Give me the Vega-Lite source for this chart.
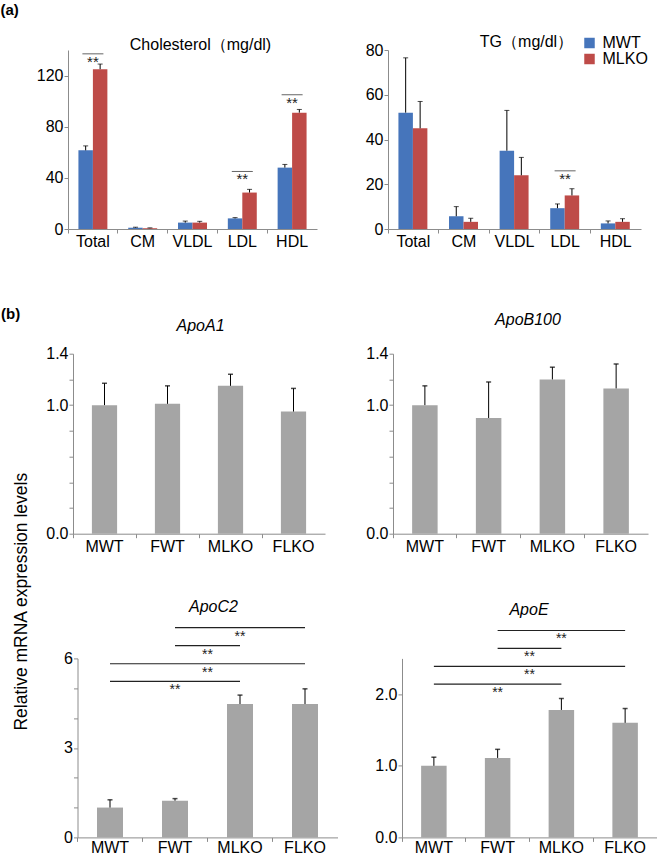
{
  "$schema": "https://vega.github.io/schema/vega-lite/v6.json",
  "padding": {"left": 0, "top": 3, "right": 0, "bottom": 0},
  "background": "white",
  "bounds": "flush",
  "columns": 2,
  "align": "each",
  "spacing": {"row": 124.7, "column": 50},
  "title": {"text": "(a)", "anchor": "start", "frame": "group", "dx": -67.5, "offset": 4, "fontWeight": "bold", "fontSize": 15, "baseline": "alphabetic"},
  "config": {
    "font": "Liberation Sans",
    "view": {"stroke": null},
    "axis": {"domainColor": "#8c8c8c", "tickColor": "#8c8c8c", "tickSize": 4, "labelFontSize": 16, "labelColor": "#000", "grid": false, "labelOverlap": false, "labelFlush": false, "labelBound": false, "titleFontWeight": "normal", "titleColor": "#000", "domainWidth": 1, "tickWidth": 1},
    "axisX": {"labelAngle": 0, "labelPadding": 0},
    "axisY": {"labelPadding": 1},
    "title": {"fontSize": 16, "fontWeight": "normal", "color": "#000", "baseline": "alphabetic", "anchor": "middle", "frame": "group"}
  },
  "datasets": {
    "chol": [
      {"lipo": "Total", "group": "MWT", "mean": 61.5, "upper": 65},
      {"lipo": "Total", "group": "MLKO", "mean": 125, "upper": 129},
      {"lipo": "CM", "group": "MWT", "mean": 1.0, "upper": 1.4},
      {"lipo": "CM", "group": "MLKO", "mean": 0.6, "upper": 0.9},
      {"lipo": "VLDL", "group": "MWT", "mean": 5.0, "upper": 6.2},
      {"lipo": "VLDL", "group": "MLKO", "mean": 5.0, "upper": 6.0},
      {"lipo": "LDL", "group": "MWT", "mean": 8.3, "upper": 8.9},
      {"lipo": "LDL", "group": "MLKO", "mean": 28.5, "upper": 31},
      {"lipo": "HDL", "group": "MWT", "mean": 48, "upper": 50.5},
      {"lipo": "HDL", "group": "MLKO", "mean": 91, "upper": 93.5}
    ],
    "cholSig": [
      {"lipo": "Total", "y": 137},
      {"lipo": "LDL", "y": 45},
      {"lipo": "HDL", "y": 105}
    ],
    "tg": [
      {"lipo": "Total", "group": "MWT", "mean": 52, "upper": 76.5},
      {"lipo": "Total", "group": "MLKO", "mean": 45, "upper": 57},
      {"lipo": "CM", "group": "MWT", "mean": 5.7, "upper": 10},
      {"lipo": "CM", "group": "MLKO", "mean": 3.2, "upper": 4.8},
      {"lipo": "VLDL", "group": "MWT", "mean": 35, "upper": 53},
      {"lipo": "VLDL", "group": "MLKO", "mean": 24, "upper": 32},
      {"lipo": "LDL", "group": "MWT", "mean": 9.3, "upper": 11.2},
      {"lipo": "LDL", "group": "MLKO", "mean": 15, "upper": 18},
      {"lipo": "HDL", "group": "MWT", "mean": 2.5, "upper": 3.6},
      {"lipo": "HDL", "group": "MLKO", "mean": 3.2, "upper": 4.6}
    ],
    "tgSig": [
      {"lipo": "LDL", "y": 26}
    ],
    "a1": [
      {"grp": "MWT", "mean": 1.0, "upper": 1.17},
      {"grp": "FWT", "mean": 1.01, "upper": 1.15},
      {"grp": "MLKO", "mean": 1.15, "upper": 1.24},
      {"grp": "FLKO", "mean": 0.95, "upper": 1.13}
    ],
    "b100": [
      {"grp": "MWT", "mean": 1.0, "upper": 1.15},
      {"grp": "FWT", "mean": 0.9, "upper": 1.18},
      {"grp": "MLKO", "mean": 1.2, "upper": 1.295},
      {"grp": "FLKO", "mean": 1.13, "upper": 1.32}
    ],
    "c2": [
      {"grp": "MWT", "mean": 1.0, "upper": 1.26},
      {"grp": "FWT", "mean": 1.23, "upper": 1.3},
      {"grp": "MLKO", "mean": 4.47, "upper": 4.77},
      {"grp": "FLKO", "mean": 4.47, "upper": 4.98}
    ],
    "c2Sig": [
      {"from": "FWT", "to": "FLKO", "y": 7.03, "star_at": "MLKO"},
      {"from": "FWT", "to": "MLKO", "y": 6.43, "star_at": "FWT/MLKO"},
      {"from": "MWT", "to": "FLKO", "y": 5.82, "star_at": "FWT/MLKO"},
      {"from": "MWT", "to": "MLKO", "y": 5.23, "star_at": "FWT"}
    ],
    "e": [
      {"grp": "MWT", "mean": 1.0, "upper": 1.12},
      {"grp": "FWT", "mean": 1.11, "upper": 1.23},
      {"grp": "MLKO", "mean": 1.78, "upper": 1.94},
      {"grp": "FLKO", "mean": 1.6, "upper": 1.8}
    ],
    "eSig": [
      {"from": "FWT", "to": "FLKO", "y": 2.89, "star_at": "MLKO"},
      {"from": "FWT", "to": "MLKO", "y": 2.64, "star_at": "FWT/MLKO"},
      {"from": "MWT", "to": "FLKO", "y": 2.39, "star_at": "FWT/MLKO"},
      {"from": "MWT", "to": "MLKO", "y": 2.14, "star_at": "FWT"}
    ]
  },
  "concat": [
    {
      "width": 249, "height": 179,
      "title": {"text": "Cholesterol（mg/dl)", "dx": 8, "offset": -2.5},
      "layer": [
        {
          "data": {"name": "chol"},
          "mark": {"type": "bar"},
          "encoding": {
            "x": {"field": "lipo", "type": "nominal", "scale": {"domain": ["Total", "CM", "VLDL", "LDL", "HDL"], "paddingInner": 0, "paddingOuter": 0},
              "axis": {"bandPosition": 0, "title": "(b)", "titleAngle": 0, "titleAlign": "left", "titleBaseline": "top", "titleX": -67.5, "titleY": 77, "titleFontWeight": "bold", "titleFontSize": 15}},
            "xOffset": {"field": "group", "type": "nominal", "scale": {"domain": ["MWT", "MLKO"], "paddingOuter": 0.72, "paddingInner": 0}},
            "y": {"field": "mean", "type": "quantitative", "scale": {"domain": [0, 140], "nice": false},
              "axis": {"labelOverlap": false, "values": [0, 20, 40, 60, 80, 100, 120, 140], "labelExpr": "datum.value % 40 == 0 ? datum.label : ' '", "title": null}},
            "color": {"field": "group", "type": "nominal", "scale": {"domain": ["MWT", "MLKO"], "range": ["#4675BB", "#BE4B48"]},
              "legend": {"orient": "none", "legendX": 513.5, "legendY": -15, "title": null, "labelFontSize": 16, "labelColor": "#000", "symbolType": "square", "symbolSize": 110, "symbolStrokeWidth": 0, "rowPadding": 0, "labelOffset": 5, "padding": 0}}
          }
        },
        {
          "data": {"name": "chol"},
          "mark": {"type": "rule", "color": "#000", "strokeWidth": 1},
          "encoding": {
            "x": {"field": "lipo", "type": "nominal", "scale": {"domain": ["Total", "CM", "VLDL", "LDL", "HDL"], "paddingInner": 0, "paddingOuter": 0}},
            "xOffset": {"field": "group", "type": "nominal", "scale": {"domain": ["MWT", "MLKO"], "paddingOuter": 0.72, "paddingInner": 0}},
            "y": {"field": "mean", "type": "quantitative", "scale": {"domain": [0, 140], "nice": false}},
            "y2": {"field": "upper"}
          }
        },
        {
          "data": {"name": "chol"},
          "mark": {"type": "tick", "color": "#000", "thickness": 1, "size": 5},
          "encoding": {
            "x": {"field": "lipo", "type": "nominal", "scale": {"domain": ["Total", "CM", "VLDL", "LDL", "HDL"], "paddingInner": 0, "paddingOuter": 0}},
            "xOffset": {"field": "group", "type": "nominal", "scale": {"domain": ["MWT", "MLKO"], "paddingOuter": 0.72, "paddingInner": 0}},
            "y": {"field": "upper", "type": "quantitative", "scale": {"domain": [0, 140], "nice": false}}
          }
        },
        {
          "data": {"name": "cholSig"},
          "mark": {"type": "tick", "color": "#222", "thickness": 1, "size": 21},
          "encoding": {
            "x": {"field": "lipo", "type": "nominal", "scale": {"domain": ["Total", "CM", "VLDL", "LDL", "HDL"], "paddingInner": 0, "paddingOuter": 0}},
            "y": {"field": "y", "type": "quantitative", "scale": {"domain": [0, 140], "nice": false}}
          }
        },
        {
          "data": {"name": "cholSig"},
          "mark": {"type": "text", "text": "**", "baseline": "top", "dy": 1, "fontSize": 15, "color": "#222"},
          "encoding": {
            "x": {"field": "lipo", "type": "nominal", "scale": {"domain": ["Total", "CM", "VLDL", "LDL", "HDL"], "paddingInner": 0, "paddingOuter": 0}},
            "y": {"field": "y", "type": "quantitative", "scale": {"domain": [0, 140], "nice": false}}
          }
        }
      ]
    },
    {
      "width": 253, "height": 179,
      "title": {"text": "TG（mg/dl）", "dx": 12, "offset": -8},
      "layer": [
        {
          "data": {"name": "tg"},
          "mark": {"type": "bar"},
          "encoding": {
            "x": {"field": "lipo", "type": "nominal", "scale": {"domain": ["Total", "CM", "VLDL", "LDL", "HDL"], "paddingInner": 0, "paddingOuter": 0}, "axis": {"bandPosition": 0, "title": null}},
            "xOffset": {"field": "group", "type": "nominal", "scale": {"domain": ["MWT", "MLKO"], "paddingOuter": 0.74, "paddingInner": 0}},
            "y": {"field": "mean", "type": "quantitative", "scale": {"domain": [0, 80], "nice": false},
              "axis": {"labelOverlap": false, "values": [0, 10, 20, 30, 40, 50, 60, 70, 80], "labelExpr": "datum.value % 20 == 0 ? datum.label : ' '", "title": null}},
            "color": {"field": "group", "type": "nominal", "scale": {"domain": ["MWT", "MLKO"], "range": ["#4675BB", "#BE4B48"]},
              "legend": {"orient": "none", "legendX": 513.5, "legendY": -15, "title": null, "labelFontSize": 16, "labelColor": "#000", "symbolType": "square", "symbolSize": 110, "symbolStrokeWidth": 0, "rowPadding": 0, "labelOffset": 5, "padding": 0}}
          }
        },
        {
          "data": {"name": "tg"},
          "mark": {"type": "rule", "color": "#000", "strokeWidth": 1},
          "encoding": {
            "x": {"field": "lipo", "type": "nominal", "scale": {"domain": ["Total", "CM", "VLDL", "LDL", "HDL"], "paddingInner": 0, "paddingOuter": 0}},
            "xOffset": {"field": "group", "type": "nominal", "scale": {"domain": ["MWT", "MLKO"], "paddingOuter": 0.74, "paddingInner": 0}},
            "y": {"field": "mean", "type": "quantitative", "scale": {"domain": [0, 80], "nice": false}},
            "y2": {"field": "upper"}
          }
        },
        {
          "data": {"name": "tg"},
          "mark": {"type": "tick", "color": "#000", "thickness": 1, "size": 5},
          "encoding": {
            "x": {"field": "lipo", "type": "nominal", "scale": {"domain": ["Total", "CM", "VLDL", "LDL", "HDL"], "paddingInner": 0, "paddingOuter": 0}},
            "xOffset": {"field": "group", "type": "nominal", "scale": {"domain": ["MWT", "MLKO"], "paddingOuter": 0.74, "paddingInner": 0}},
            "y": {"field": "upper", "type": "quantitative", "scale": {"domain": [0, 80], "nice": false}}
          }
        },
        {
          "data": {"name": "tgSig"},
          "mark": {"type": "tick", "color": "#222", "thickness": 1, "size": 21},
          "encoding": {
            "x": {"field": "lipo", "type": "nominal", "scale": {"domain": ["Total", "CM", "VLDL", "LDL", "HDL"], "paddingInner": 0, "paddingOuter": 0}},
            "y": {"field": "y", "type": "quantitative", "scale": {"domain": [0, 80], "nice": false}}
          }
        },
        {
          "data": {"name": "tgSig"},
          "mark": {"type": "text", "text": "**", "baseline": "top", "dy": 1, "fontSize": 15, "color": "#222"},
          "encoding": {
            "x": {"field": "lipo", "type": "nominal", "scale": {"domain": ["Total", "CM", "VLDL", "LDL", "HDL"], "paddingInner": 0, "paddingOuter": 0}},
            "y": {"field": "y", "type": "quantitative", "scale": {"domain": [0, 80], "nice": false}}
          }
        }
      ]
    },
    {
      "width": 257, "height": 180,
      "title": {"text": "ApoA1", "fontStyle": "italic", "offset": 11.5, "dx": 4},
      "resolve": {"axis": {"y": "independent"}},
      "layer": [
        {
          "data": {"name": "a1"},
          "mark": {"type": "bar", "color": "#A5A5A5", "width": {"band": 0.4}},
          "encoding": {
            "x": {"field": "grp", "type": "nominal", "scale": {"domain": ["MWT", "FWT", "MLKO", "FLKO"], "paddingInner": 0, "paddingOuter": 0, "rangeMin": 5},
              "axis": {"bandPosition": 0, "labelPadding": 1, "title": "Relative mRNA expression levels", "titleAngle": -90, "titleAlign": "center", "titleBaseline": "middle", "titleX": -47, "titleY": 67.5, "titleFontSize": 17.5}},
            "y": {"field": "mean", "type": "quantitative", "scale": {"domain": [0, 1.4], "nice": false},
              "axis": {"orient": "left", "offset": -5, "values": [0, 1, 1.4], "format": ".1f", "ticks": false, "domain": false, "labelPadding": 5, "title": null}}
          }
        },
        {
          "data": {"name": "a1"},
          "mark": {"type": "rule", "color": "#000", "strokeWidth": 1},
          "encoding": {
            "x": {"field": "grp", "type": "nominal", "scale": {"domain": ["MWT", "FWT", "MLKO", "FLKO"], "paddingInner": 0, "paddingOuter": 0, "rangeMin": 5}},
            "y": {"field": "mean", "type": "quantitative", "scale": {"domain": [0, 1.4], "nice": false},
              "axis": {"orient": "left", "offset": -5, "values": [0, 0.2, 0.4, 0.6, 0.8, 1, 1.2, 1.4], "labels": false, "title": null}},
            "y2": {"field": "upper"}
          }
        },
        {
          "data": {"name": "a1"},
          "mark": {"type": "tick", "color": "#000", "thickness": 1.5, "size": 5},
          "encoding": {
            "x": {"field": "grp", "type": "nominal", "scale": {"domain": ["MWT", "FWT", "MLKO", "FLKO"], "paddingInner": 0, "paddingOuter": 0, "rangeMin": 5}},
            "y": {"field": "upper", "type": "quantitative", "scale": {"domain": [0, 1.4], "nice": false}, "axis": null}
          }
        }
      ]
    },
    {
      "width": 260, "height": 180,
      "title": {"text": "ApoB100", "fontStyle": "italic", "offset": 18, "dx": 10},
      "resolve": {"axis": {"y": "independent"}},
      "layer": [
        {
          "data": {"name": "b100"},
          "mark": {"type": "bar", "color": "#A5A5A5", "width": {"band": 0.4}},
          "encoding": {
            "x": {"field": "grp", "type": "nominal", "scale": {"domain": ["MWT", "FWT", "MLKO", "FLKO"], "paddingInner": 0, "paddingOuter": 0, "rangeMin": 5}, "axis": {"bandPosition": 0, "title": null, "labelPadding": 1}},
            "y": {"field": "mean", "type": "quantitative", "scale": {"domain": [0, 1.4], "nice": false},
              "axis": {"orient": "left", "offset": -5, "values": [0, 1, 1.4], "format": ".1f", "ticks": false, "domain": false, "labelPadding": 5, "title": null}}
          }
        },
        {
          "data": {"name": "b100"},
          "mark": {"type": "rule", "color": "#000", "strokeWidth": 1},
          "encoding": {
            "x": {"field": "grp", "type": "nominal", "scale": {"domain": ["MWT", "FWT", "MLKO", "FLKO"], "paddingInner": 0, "paddingOuter": 0, "rangeMin": 5}},
            "y": {"field": "mean", "type": "quantitative", "scale": {"domain": [0, 1.4], "nice": false},
              "axis": {"orient": "left", "offset": -5, "values": [0, 0.2, 0.4, 0.6, 0.8, 1, 1.2, 1.4], "labels": false, "title": null}},
            "y2": {"field": "upper"}
          }
        },
        {
          "data": {"name": "b100"},
          "mark": {"type": "tick", "color": "#000", "thickness": 1.5, "size": 5},
          "encoding": {
            "x": {"field": "grp", "type": "nominal", "scale": {"domain": ["MWT", "FWT", "MLKO", "FLKO"], "paddingInner": 0, "paddingOuter": 0, "rangeMin": 5}},
            "y": {"field": "upper", "type": "quantitative", "scale": {"domain": [0, 1.4], "nice": false}, "axis": null}
          }
        }
      ]
    },
    {
      "width": 269.5, "height": 179,
      "title": {"text": "ApoC2", "fontStyle": "italic", "offset": 12.5, "dx": 10.75},
      "resolve": {"axis": {"y": "independent"}},
      "layer": [
        {
          "data": {"name": "c2"},
          "mark": {"type": "bar", "color": "#A5A5A5", "width": {"band": 0.4}},
          "encoding": {
            "x": {"field": "grp", "type": "nominal", "scale": {"domain": ["MWT", "FWT", "MLKO", "FLKO"], "paddingInner": 0, "paddingOuter": 0, "rangeMin": 9.5}, "axis": {"bandPosition": 0, "title": null, "labelPadding": -1.5}},
            "y": {"field": "mean", "type": "quantitative", "scale": {"domain": [0, 6], "nice": false},
              "axis": {"orient": "left", "offset": -9.5, "values": [0, 3, 6], "ticks": false, "domain": false, "labelPadding": 5, "title": null}}
          }
        },
        {
          "data": {"name": "c2"},
          "mark": {"type": "rule", "color": "#000", "strokeWidth": 1},
          "encoding": {
            "x": {"field": "grp", "type": "nominal", "scale": {"domain": ["MWT", "FWT", "MLKO", "FLKO"], "paddingInner": 0, "paddingOuter": 0, "rangeMin": 9.5}},
            "y": {"field": "mean", "type": "quantitative", "scale": {"domain": [0, 6], "nice": false},
              "axis": {"orient": "left", "offset": -9.5, "values": [0, 1, 2, 3, 4, 5, 6], "labels": false, "title": null}},
            "y2": {"field": "upper"}
          }
        },
        {
          "data": {"name": "c2"},
          "mark": {"type": "tick", "color": "#000", "thickness": 1.5, "size": 5},
          "encoding": {
            "x": {"field": "grp", "type": "nominal", "scale": {"domain": ["MWT", "FWT", "MLKO", "FLKO"], "paddingInner": 0, "paddingOuter": 0, "rangeMin": 9.5}},
            "y": {"field": "upper", "type": "quantitative", "scale": {"domain": [0, 6], "nice": false}, "axis": null}
          }
        },
        {
          "data": {"name": "c2Sig"},
          "mark": {"type": "rule", "color": "#222", "strokeWidth": 1.2},
          "encoding": {
            "x": {"field": "from", "type": "nominal", "scale": {"domain": ["MWT", "FWT", "MLKO", "FLKO"], "paddingInner": 0, "paddingOuter": 0, "rangeMin": 9.5}},
            "x2": {"field": "to"},
            "y": {"field": "y", "type": "quantitative", "scale": {"domain": [0, 6], "nice": false}, "axis": null}
          }
        },
        {
          "data": {"name": "c2Sig"},
          "transform": [{"filter": "datum.star_at != 'FWT/MLKO'"}],
          "mark": {"type": "text", "text": "**", "baseline": "top", "dy": 2, "fontSize": 14, "color": "#222"},
          "encoding": {
            "x": {"field": "star_at", "type": "nominal", "scale": {"domain": ["MWT", "FWT", "MLKO", "FLKO"], "paddingInner": 0, "paddingOuter": 0, "rangeMin": 9.5}},
            "y": {"field": "y", "type": "quantitative", "scale": {"domain": [0, 6], "nice": false}, "axis": null}
          }
        },
        {
          "data": {"name": "c2Sig"},
          "transform": [{"filter": "datum.star_at == 'FWT/MLKO'"}],
          "mark": {"type": "text", "text": "**", "baseline": "top", "dy": 2, "fontSize": 14, "color": "#222"},
          "encoding": {
            "x": {"datum": "FWT", "type": "nominal", "bandPosition": 1, "scale": {"domain": ["MWT", "FWT", "MLKO", "FLKO"], "paddingInner": 0, "paddingOuter": 0, "rangeMin": 9.5}},
            "y": {"field": "y", "type": "quantitative", "scale": {"domain": [0, 6], "nice": false}, "axis": null}
          }
        }
      ]
    },
    {
      "width": 269, "height": 179,
      "title": {"text": "ApoE", "fontStyle": "italic", "offset": 11.8, "dx": 6.5},
      "layer": [
        {
          "data": {"name": "e"},
          "mark": {"type": "bar", "color": "#A5A5A5", "width": {"band": 0.4}},
          "encoding": {
            "x": {"field": "grp", "type": "nominal", "scale": {"domain": ["MWT", "FWT", "MLKO", "FLKO"], "paddingInner": 0, "paddingOuter": 0, "rangeMin": 14}, "axis": {"bandPosition": 0, "title": null, "labelPadding": -1.5}},
            "y": {"field": "mean", "type": "quantitative", "scale": {"domain": [0, 2.5], "nice": false},
              "axis": {"offset": -14, "labelOverlap": false, "values": [0, 0.5, 1, 1.5, 2, 2.5], "labelExpr": "datum.value % 1 == 0 ? format(datum.value, '.1f') : ' '", "title": null}}
          }
        },
        {
          "data": {"name": "e"},
          "mark": {"type": "rule", "color": "#000", "strokeWidth": 1},
          "encoding": {
            "x": {"field": "grp", "type": "nominal", "scale": {"domain": ["MWT", "FWT", "MLKO", "FLKO"], "paddingInner": 0, "paddingOuter": 0, "rangeMin": 14}},
            "y": {"field": "mean", "type": "quantitative", "scale": {"domain": [0, 2.5], "nice": false}},
            "y2": {"field": "upper"}
          }
        },
        {
          "data": {"name": "e"},
          "mark": {"type": "tick", "color": "#000", "thickness": 1.5, "size": 5},
          "encoding": {
            "x": {"field": "grp", "type": "nominal", "scale": {"domain": ["MWT", "FWT", "MLKO", "FLKO"], "paddingInner": 0, "paddingOuter": 0, "rangeMin": 14}},
            "y": {"field": "upper", "type": "quantitative", "scale": {"domain": [0, 2.5], "nice": false}}
          }
        },
        {
          "data": {"name": "eSig"},
          "mark": {"type": "rule", "color": "#222", "strokeWidth": 1.2},
          "encoding": {
            "x": {"field": "from", "type": "nominal", "scale": {"domain": ["MWT", "FWT", "MLKO", "FLKO"], "paddingInner": 0, "paddingOuter": 0, "rangeMin": 14}},
            "x2": {"field": "to"},
            "y": {"field": "y", "type": "quantitative", "scale": {"domain": [0, 2.5], "nice": false}}
          }
        },
        {
          "data": {"name": "eSig"},
          "transform": [{"filter": "datum.star_at != 'FWT/MLKO'"}],
          "mark": {"type": "text", "text": "**", "baseline": "top", "dy": 2, "fontSize": 14, "color": "#222"},
          "encoding": {
            "x": {"field": "star_at", "type": "nominal", "scale": {"domain": ["MWT", "FWT", "MLKO", "FLKO"], "paddingInner": 0, "paddingOuter": 0, "rangeMin": 14}},
            "y": {"field": "y", "type": "quantitative", "scale": {"domain": [0, 2.5], "nice": false}}
          }
        },
        {
          "data": {"name": "eSig"},
          "transform": [{"filter": "datum.star_at == 'FWT/MLKO'"}],
          "mark": {"type": "text", "text": "**", "baseline": "top", "dy": 2, "fontSize": 14, "color": "#222"},
          "encoding": {
            "x": {"datum": "FWT", "type": "nominal", "bandPosition": 1, "scale": {"domain": ["MWT", "FWT", "MLKO", "FLKO"], "paddingInner": 0, "paddingOuter": 0, "rangeMin": 14}},
            "y": {"field": "y", "type": "quantitative", "scale": {"domain": [0, 2.5], "nice": false}}
          }
        }
      ]
    }
  ]
}
